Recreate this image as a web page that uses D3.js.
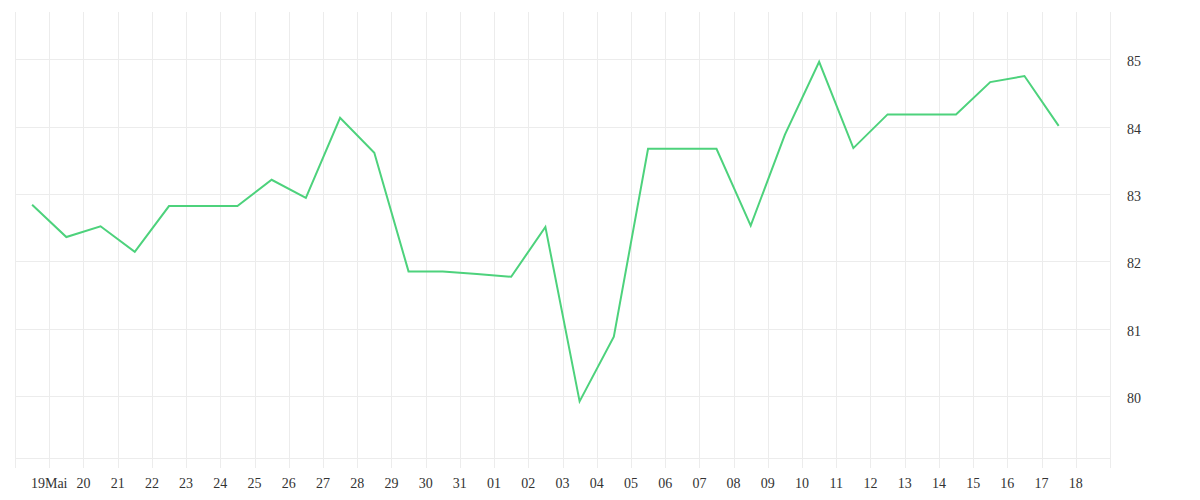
<!DOCTYPE html>
<html>
<head>
<meta charset="utf-8">
<script src="https://cdn.jsdelivr.net/npm/d3@7"></script>
<style>
  body { margin: 0; background: #fff; }
  text { font-family: "Liberation Serif", serif; font-size: 14px; fill: #333; }
</style>
</head>
<body>
<script>
// daily values, one point per day (18 May .. 17 Jun)
const startDay = "2019-05-18";
const values = [
  82.84, 82.36, 82.52, 82.14, 82.82, 82.82, 82.82, 83.21, 82.94, 84.13,
  83.61, 81.85, 81.85, 81.81, 81.77, 82.51, 79.92, 80.88, 83.67, 83.67,
  83.67, 82.53, 83.88, 84.96, 83.68, 84.18, 84.18, 84.18, 84.66, 84.75,
  84.01
];
const yTicks = [80, 81, 82, 83, 84, 85];
const monthName = "Mai";

const width = 1200;
const height = 500;
const plotLeft = 15, plotRight = 1110, plotTop = 12, plotBottom = 458;

const parse = d3.utcParse("%Y-%m-%d");
const day0 = parse(startDay);
const data = values.map((v, i) => ({ date: d3.utcDay.offset(day0, i), value: v }));

const x = d3.scaleUtc()
    .domain([day0, d3.utcDay.offset(day0, values.length + 1)])
    .range([plotLeft, plotRight]);

const y = d3.scaleLinear()
    .domain([79.08, 85.7])
    .range([plotBottom, plotTop]);

const svg = d3.select("body")
    .append("svg")
    .attr("width", width)
    .attr("height", height);

const grid = svg.append("g")
    .attr("stroke", "#ececec")
    .attr("stroke-width", 1);

// vertical day lines (run a bit below the plot as ticks)
const days = d3.utcDay.range(x.domain()[0], d3.utcDay.offset(x.domain()[1], 1));
grid.selectAll("line.v")
    .data(days)
    .enter()
    .append("line")
    .attr("class", "v")
    .attr("x1", d => Math.round(x(d)) + 0.5)
    .attr("x2", d => Math.round(x(d)) + 0.5)
    .attr("y1", plotTop)
    .attr("y2", plotBottom + 10);

// horizontal value lines + bottom edge
grid.selectAll("line.h")
    .data(yTicks.concat([y.domain()[0]]))
    .enter()
    .append("line")
    .attr("class", "h")
    .attr("x1", plotLeft)
    .attr("x2", plotRight)
    .attr("y1", d => Math.round(y(d)) + 0.5)
    .attr("y2", d => Math.round(y(d)) + 0.5);

// x labels at the day boundaries
const labelDays = days.slice(1, values.length + 1);
svg.append("g")
    .selectAll("text")
    .data(labelDays)
    .enter()
    .append("text")
    .attr("x", d => x(d))
    .attr("y", plotBottom + 30)
    .attr("text-anchor", "middle")
    .text((d, i) => i === 0 ? d3.utcFormat("%d")(d) + monthName : d3.utcFormat("%d")(d));

// y labels on the right
svg.append("g")
    .selectAll("text")
    .data(yTicks)
    .enter()
    .append("text")
    .attr("x", plotRight + 17)
    .attr("y", d => y(d) + 7)
    .text(d => d);

const line = d3.line()
    .x(d => x(d3.utcHour.offset(d.date, 12)))
    .y(d => y(d.value));

svg.append("path")
    .datum(data)
    .attr("fill", "none")
    .attr("stroke", "#4dd27c")
    .attr("stroke-width", 2)
    .attr("stroke-linejoin", "miter")
    .attr("d", line);
</script>
</body>
</html>
